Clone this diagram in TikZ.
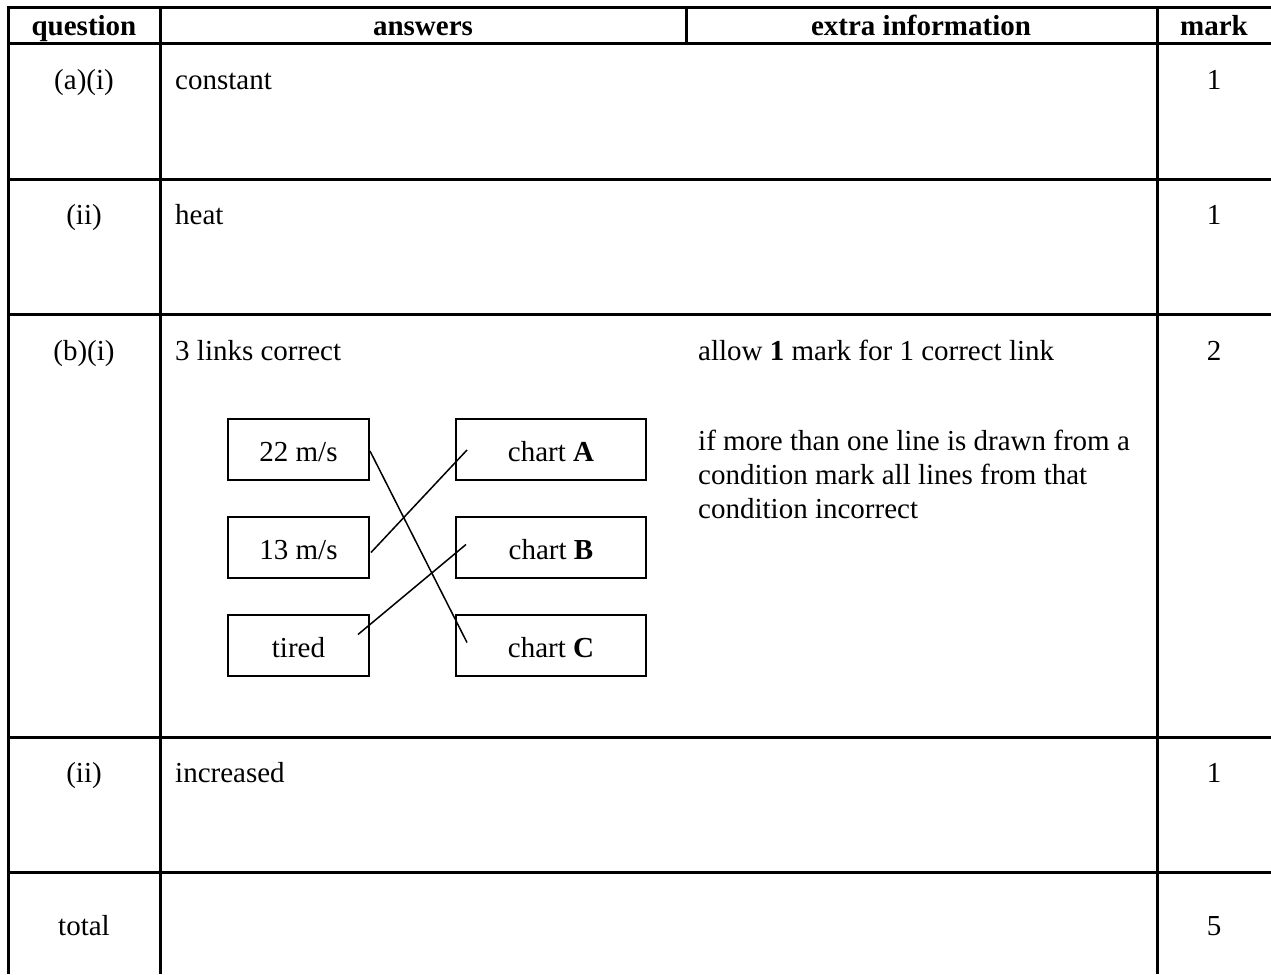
\documentclass[tikz,border=0pt]{standalone}
\usepackage{fontspec}
\setmainfont{Liberation Serif}
\usetikzlibrary{positioning,calc}

\begin{document}
\begin{tikzpicture}[
    x=1pt, y=-1pt,
    font=\fontsize{29}{34}\selectfont,
    rule/.style={line width=3pt},
    cell/.style={anchor=base, inner sep=0pt},
    entry/.style={anchor=base west, inner sep=0pt},
    head/.style={cell, font=\fontsize{29}{34}\selectfont\bfseries},
    linkbox/.style={draw, line width=2pt, minimum height=61pt, inner sep=0pt, outer sep=0pt, text height=24pt, text depth=0pt},
    link/.style={line width=1.5pt}
]
    \useasboundingbox (0,0) rectangle (1271,974);

    % table grid
    \foreach \y in {8,44,179,314,737,872}
        \draw[rule] (6.5,\y) -- (1271,\y);
    \foreach \x in {8,160,1157}
        \draw[rule] (\x,6.5) -- (\x,974);
    \draw[rule] (686,8) -- (686,44);

    % header
    \node[head] (hquest) at (84,36) {question};
    \node[head] (hans) at (423,36) {answers};
    \node[head] (hextra) at (921,36) {extra information};
    \node[head] (hmark) at (1214,36) {mark};

    % question column
    \node[cell] (qai) at (84,89) {(a)(i)};
    \node[cell] (qaii) at (84,224) {(ii)};
    \node[cell] (qbi) at (84,360) {(b)(i)};
    \node[cell] (qbii) at (84,782) {(ii)};
    \node[cell] (qtotal) at (84,935) {total};

    % answers
    \node[entry] (aai) at (175,89) {constant};
    \node[entry] (aaii) at (175,224) {heat};
    \node[entry] (abi) at (175,360) {3 links correct};
    \node[entry] (abii) at (175,782) {increased};

    % extra information
    \node[entry] (xallow) at (698,360) {allow \textbf{1} mark for 1 correct link};
    \node[anchor=north west, inner sep=0pt, align=left] (xmore) at (698,430)
        {if more than one line is drawn from a\\condition mark all lines from that\\condition incorrect};

    % marks
    \node[cell] (mai) at (1214,89) {1};
    \node[cell] (maii) at (1214,224) {1};
    \node[cell] (mbi) at (1214,360) {2};
    \node[cell] (mbii) at (1214,782) {1};
    \node[cell] (mtotal) at (1214,935) {5};

    % matching boxes
    \node[linkbox, minimum width=141pt] (speedhi) at (298.5,449.5) {22 m/s};
    \node[linkbox, minimum width=141pt, below=37pt of speedhi] (speedlo) {13 m/s};
    \node[linkbox, minimum width=141pt, below=37pt of speedlo] (tired) {tired};
    \node[linkbox, minimum width=190pt, right=87pt of speedhi] (chartA) {chart \textbf{A}};
    \node[linkbox, minimum width=190pt, right=87pt of speedlo] (chartB) {chart \textbf{B}};
    \node[linkbox, minimum width=190pt, right=87pt of tired] (chartC) {chart \textbf{C}};

    \draw[link] ($(speedhi.east)+(1,1.5)$) -- ($(chartC.west)+(11,-3)$);
    \draw[link] ($(speedlo.east)+(2,5)$) -- ($(chartA.west)+(11,0.5)$);
    \draw[link] ($(tired.east)+(-11,-11)$) -- ($(chartB.west)+(10,-3)$);
\end{tikzpicture}
\end{document}
